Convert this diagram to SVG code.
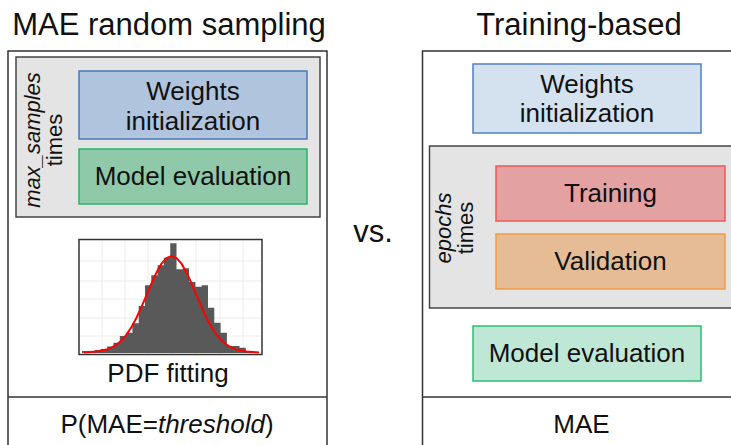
<svg xmlns="http://www.w3.org/2000/svg" width="731" height="445" viewBox="0 0 731 445">
<style>
text{font-family:"Liberation Sans",Arial,sans-serif;fill:#111;}
.title{font-size:31px;text-anchor:middle;}
.lbl{font-size:26px;text-anchor:middle;}
.rot{font-size:22px;text-anchor:middle;}
.it{font-style:italic;}
.panel{fill:#fff;stroke:#333;stroke-width:1.5;}
.loop{fill:#e4e4e4;stroke:#444;stroke-width:1.5;}
.grid{stroke:#ececec;stroke-width:1;}
.bar{fill:#595959;}
</style>
<rect width="731" height="445" fill="#fff"/>

<text class="title" x="169" y="35">MAE random sampling</text>
<text class="title" x="579" y="35">Training-based</text>
<text class="title" x="373" y="242">vs.</text>

<g id="left-panel">
<rect class="panel" x="8" y="51" width="319" height="400"/>
<line x1="8" y1="397" x2="327" y2="397" stroke="#333" stroke-width="1.5"/>
<text class="lbl" x="167" y="433">P(MAE=<tspan class="it">threshold</tspan>)</text>
</g>

<g id="left-loop">
<rect class="loop" x="16" y="57" width="304" height="160"/>
<text class="rot it" transform="rotate(-90 40 140)" x="40" y="140">max_samples</text>
<text class="rot" transform="rotate(-90 62 140)" x="62" y="140">times</text>
</g>

<g id="left-weights">
<rect x="79" y="71" width="228" height="68" fill="#b0c4de" stroke="#4b78b7" stroke-width="1.5"/>
<text class="lbl" x="193" y="100">Weights</text>
<text class="lbl" x="193" y="130">initialization</text>
</g>

<g id="left-eval">
<rect x="79" y="149" width="228" height="55" fill="#8fc9a9" stroke="#2bb36b" stroke-width="1.5"/>
<text class="lbl" x="193" y="185">Model evaluation</text>
</g>

<g id="pdf-fitting">
<rect x="79" y="239.5" width="183" height="115" fill="#fff"/>
<g class="grid">
<line x1="102" y1="240" x2="102" y2="354"/>
<line x1="125" y1="240" x2="125" y2="354"/>
<line x1="148" y1="240" x2="148" y2="354"/>
<line x1="172" y1="240" x2="172" y2="354"/>
<line x1="196" y1="240" x2="196" y2="354"/>
<line x1="220" y1="240" x2="220" y2="354"/>
<line x1="243" y1="240" x2="243" y2="354"/>
<line x1="79" y1="261" x2="262" y2="261"/>
<line x1="79" y1="281" x2="262" y2="281"/>
<line x1="79" y1="299" x2="262" y2="299"/>
<line x1="79" y1="318" x2="262" y2="318"/>
<line x1="79" y1="336" x2="262" y2="336"/>
</g>
<path class="bar" d="M82,353 V351 H94.6 V350 H100.9 V349 H107.2 V346.5 H113.5 V342.7 H119.8 V336 H126.1 V332.7 H132.4 V323.3 H138.7 V306 H145 V285.3 H151.3 V275.3 H157.6 V265.3 H163.9 V257.7 H170.2 V243.3 H176.5 V269.3 H182.8 V268.3 H189.1 V282 H195.4 V286.7 H201.7 V285.3 H208 V307.7 H214.3 V322.7 H220.6 V332.7 H226.9 V346 H239.5 V347.7 H245.8 V351 H252.1 V352 H258.4 V353 Z"/>
<polyline fill="none" stroke="#ff0000" stroke-width="2" points="84,352.5 86.5,352.3 96.5,351.6 106.5,349.6 111.5,347.7 116.5,344.7 121.5,340.4 126.5,334.6 131.5,327.0 136.5,317.7 141.5,306.9 146.5,295.2 151.5,283.3 156.5,272.5 161.5,263.7 166.5,258.0 171.5,256 176.5,258.0 181.5,263.7 186.5,272.5 191.5,283.3 196.5,295.2 201.5,306.9 206.5,317.7 211.5,327.0 216.5,334.6 221.5,340.4 226.5,344.7 231.5,347.7 236.5,349.6 246.5,351.6 256.5,352.3 259,352.5"/>
<rect x="79" y="239.5" width="183" height="115" fill="none" stroke="#333" stroke-width="1.5"/>
<text class="lbl" x="168" y="382">PDF fitting</text>
</g>

<g id="right-panel">
<rect class="panel" x="422.5" y="51" width="320" height="400"/>
<line x1="422.5" y1="397" x2="742" y2="397" stroke="#333" stroke-width="1.5"/>
<text class="lbl" x="581.5" y="433">MAE</text>
</g>

<g id="right-weights">
<rect x="473" y="64" width="228" height="69" fill="#d4e2f0" stroke="#4f7fc0" stroke-width="1.5"/>
<text class="lbl" x="587" y="93">Weights</text>
<text class="lbl" x="587" y="122">initialization</text>
</g>

<g id="right-loop">
<rect class="loop" x="429.5" y="146" width="310" height="162"/>
<text class="rot it" transform="rotate(-90 451 228)" x="451" y="228">epochs</text>
<text class="rot" transform="rotate(-90 473 228)" x="473" y="228">times</text>
</g>

<g id="training">
<rect x="496" y="166" width="229" height="55" fill="#e3a1a1" stroke="#ea5b5b" stroke-width="1.5"/>
<text class="lbl" x="610.5" y="202">Training</text>
</g>

<g id="validation">
<rect x="496" y="234" width="229" height="55" fill="#e5bc96" stroke="#f29a45" stroke-width="1.5"/>
<text class="lbl" x="610.5" y="270">Validation</text>
</g>

<g id="right-eval">
<rect x="473" y="326" width="228" height="55" fill="#bfe7d5" stroke="#2ebd6f" stroke-width="1.5"/>
<text class="lbl" x="587" y="362">Model evaluation</text>
</g>

<g id="connectors"></g>
</svg>
